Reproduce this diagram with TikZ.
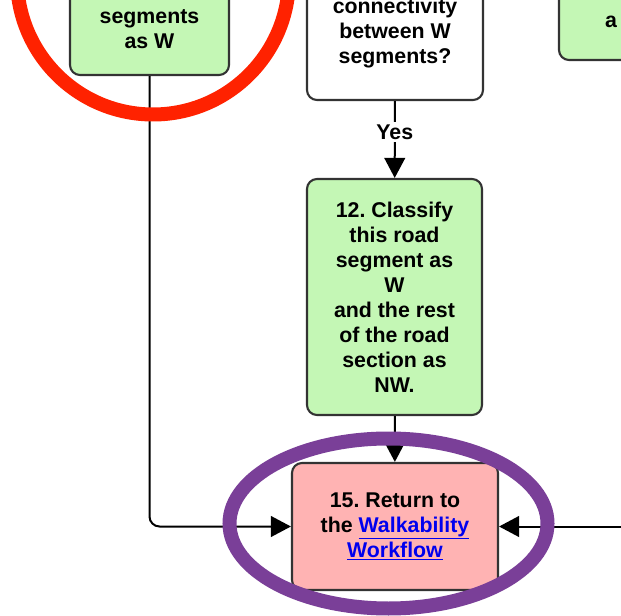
\documentclass[tikz,border=0pt]{standalone}
\usepackage{fontspec}
\setmainfont{Liberation Sans}
\usetikzlibrary{arrows.meta}
\definecolor{stepgreen}{HTML}{C4F7B5}
\definecolor{endpink}{HTML}{FFB3B3}
\definecolor{ringred}{HTML}{FF2200}
\definecolor{ringpurple}{HTML}{7A3F98}
\definecolor{linkblue}{HTML}{0000EE}
\definecolor{boxframe}{HTML}{333333}
\newcommand{\wlink}[1]{\textcolor{linkblue}{\underline{#1}}}
\frenchspacing
\begin{document}
\begin{tikzpicture}[x=0.75pt,y=-0.75pt,
  txt/.style={align=center, inner sep=0pt,
    font=\fontsize{16}{18.75}\selectfont\bfseries},
  box/.style={txt, draw=boxframe, line width=1.6pt, rounded corners=7.5pt},
  stepbox/.style={box, fill=stepgreen},
  askbox/.style={box, fill=white},
  endbox/.style={box, fill=endpink},
  flow/.style={line width=1.5pt, -{Triangle[width=15.5pt,length=15pt]}},
  ring/.style={line width=10.5pt}
]
\useasboundingbox (0,0) rectangle (621,616);
\clip (0,0) rectangle (621,616);

% boxes running off the top edge
\node[stepbox, minimum width=119.25pt, minimum height=116.25pt] (b9) at (149.5,-2.5) {};
\node[txt] (b9t) at (149.5,29.5) {segments\\as W};
\node[askbox, minimum width=132pt, minimum height=135pt] (q11) at (395,10) {};
\node[txt] (q11t) at (395,33) {connectivity\\between W\\segments?};
\node[stepbox, minimum width=90.75pt, minimum height=105pt] (b14) at (619.5,-10) {};
\node[txt] (b14t) at (611,22) {a};

% step 12 and the exit
\node[stepbox, minimum width=131.25pt, minimum height=177pt] (s12) at (394.5,297)
  {12. Classify\\this road\\segment as\\W\\and the rest\\of the road\\section as\\NW.};
\node[endbox, minimum width=154.5pt, minimum height=95.25pt] (s15) at (395,526.5)
  {15. Return to\\the \wlink{Walkability}\\\wlink{Workflow}};

% connectors
\draw[flow] (q11) -- node[pos=0.4, txt, fill=white, inner sep=2pt] (yes) {Yes} (s12);
\draw[flow] (s12) -- (s15);
\draw[flow, rounded corners=7.5pt] (b9.south) |- (s15.west);
\coordinate (rin) at (640,526.5);
\draw[flow] (rin) -- (s15.east);

% highlight rings
\draw[ring, ringred] (153,-21.5) circle [radius=102pt];
\draw[ring, ringpurple] (388.5,523.5) ellipse [x radius=119.25pt, y radius=63.75pt];
\end{tikzpicture}
\end{document}
